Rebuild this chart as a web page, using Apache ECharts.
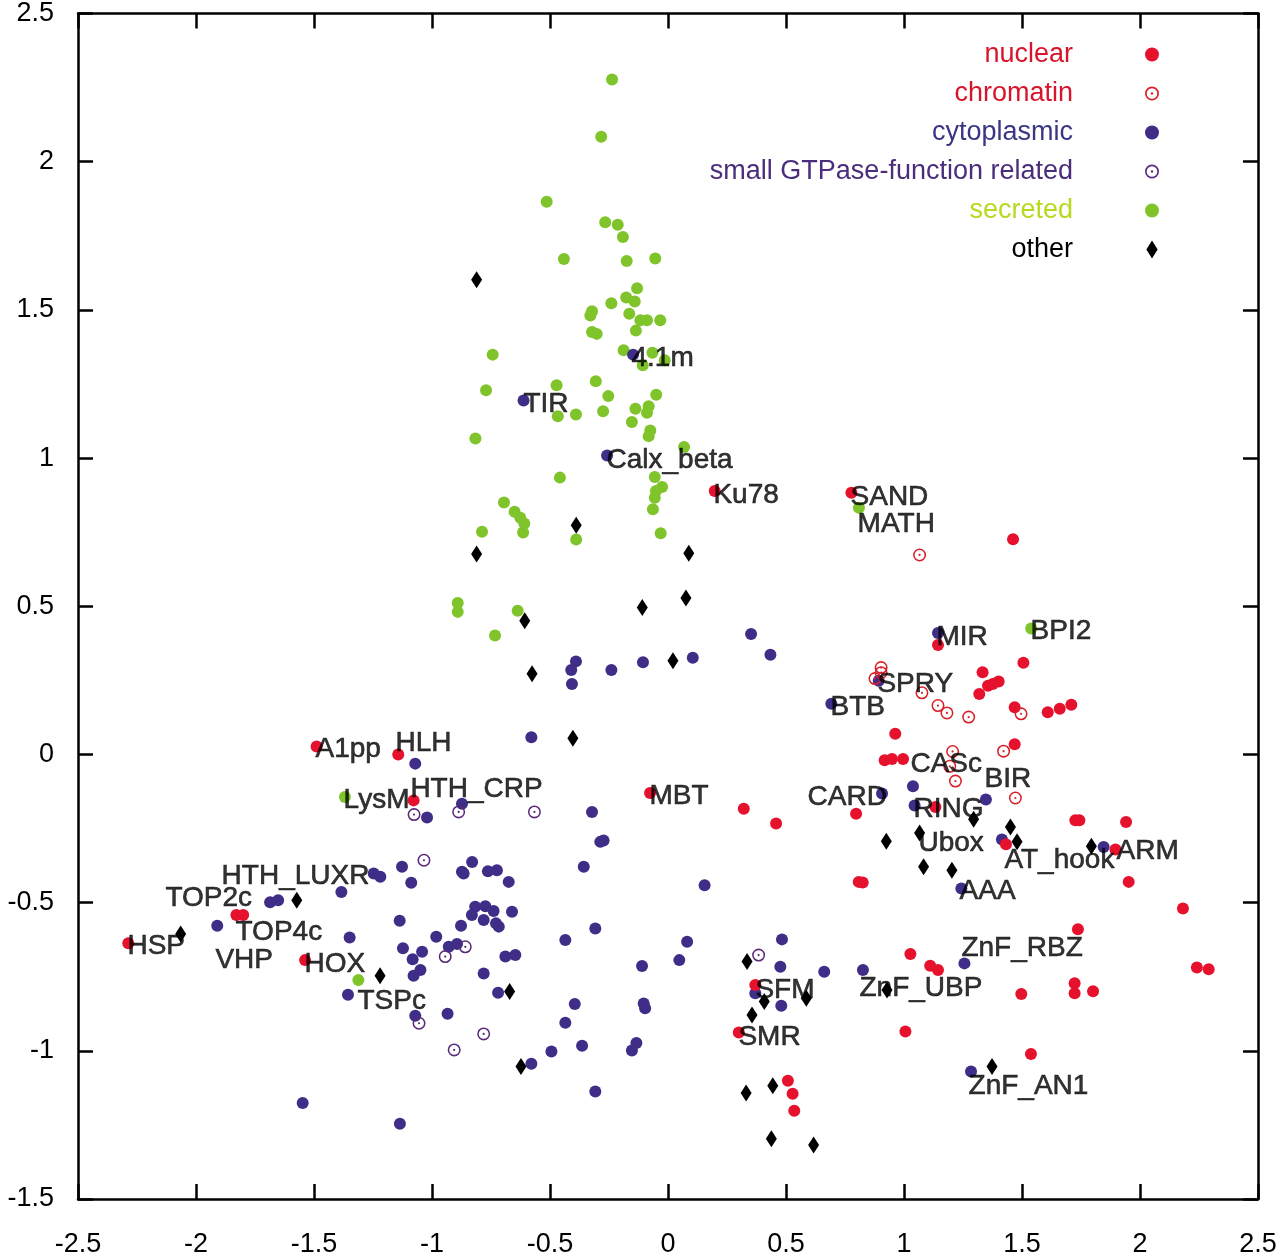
<!DOCTYPE html>
<html>
<head>
<meta charset="utf-8">
<script src="https://cdn.jsdelivr.net/npm/echarts@6/dist/echarts.min.js"></script>
<style>
  html, body { margin: 0; padding: 0; background: #fff; }
  #chart { width: 1280px; height: 1259px; }
</style>
</head>
<body>
<div id="chart"></div>
<script>
// axis ticks
var xTicks = [-2.5, -2, -1.5, -1, -0.5, 0, 0.5, 1, 1.5, 2, 2.5];
var yTicks = [-1.5, -1, -0.5, 0, 0.5, 1, 1.5, 2, 2.5];

// points, [x, y]
var nuclear = [[-1.489,0.027],[-1.143,0.0],[-1.078,-0.155],[-1.829,-0.542],[-1.800,-0.542],[-2.287,-0.637],[-1.538,-0.694],[-0.076,-0.130],[0.198,0.889],[0.777,0.883],[1.462,0.726],[1.144,0.369],[1.506,0.309],[1.333,0.277],[1.356,0.232],[1.376,0.238],[1.401,0.246],[1.319,0.204],[1.469,0.159],[1.609,0.142],[1.660,0.154],[1.709,0.168],[0.963,0.070],[0.918,-0.020],[0.949,-0.015],[0.996,-0.015],[1.469,0.034],[0.797,-0.200],[1.133,-0.177],[1.726,-0.222],[1.743,-0.222],[1.941,-0.228],[1.432,-0.303],[1.896,-0.321],[1.952,-0.430],[2.182,-0.520],[1.737,-0.590],[1.027,-0.673],[1.111,-0.713],[1.144,-0.727],[2.241,-0.719],[2.291,-0.725],[1.723,-0.772],[1.723,-0.806],[1.801,-0.799],[1.497,-0.808],[1.006,-0.935],[1.538,-1.011],[0.321,-0.183],[0.458,-0.233],[0.808,-0.430],[0.825,-0.432],[0.370,-0.778],[0.300,-0.938],[0.508,-1.101],[0.528,-1.145],[0.535,-1.202]];
var chromatin = [[1.066,0.673],[0.903,0.293],[0.903,0.276],[0.877,0.256],[1.076,0.208],[1.144,0.165],[1.182,0.140],[1.274,0.126],[1.496,0.137],[1.422,0.011],[1.206,0.010],[1.218,-0.090],[1.194,-0.040],[1.472,-0.147]];
var cytoplasmic = [[-0.148,1.349],[-0.612,1.194],[-0.258,1.009],[0.352,0.406],[0.434,0.336],[-0.390,0.314],[-0.410,0.285],[-0.407,0.238],[-0.240,0.285],[-0.106,0.311],[0.105,0.326],[-0.579,0.058],[0.692,0.171],[1.144,0.410],[0.893,0.249],[0.907,-0.132],[1.038,-0.107],[1.045,-0.172],[1.347,-0.152],[1.415,-0.287],[1.846,-0.312],[1.243,-0.452],[1.256,-0.705],[0.826,-0.727],[1.284,-1.070],[-0.322,-0.194],[-0.287,-0.295],[-0.273,-0.290],[-0.357,-0.379],[0.155,-0.441],[-0.308,-0.587],[-0.435,-0.626],[0.081,-0.632],[0.483,-0.624],[-0.110,-0.714],[0.048,-0.694],[0.476,-0.716],[0.662,-0.733],[0.370,-0.806],[0.480,-0.848],[-0.395,-0.842],[-0.103,-0.840],[-0.097,-0.856],[-0.435,-0.905],[-0.364,-0.983],[-0.494,-1.002],[-0.134,-0.974],[-0.153,-0.999],[-0.579,-1.044],[-0.308,-1.137],[-0.830,-0.363],[-0.763,-0.394],[-0.725,-0.391],[-0.675,-0.430],[-0.817,-0.514],[-0.774,-0.512],[-0.739,-0.528],[-0.661,-0.531],[-0.781,-0.559],[-0.729,-0.570],[-0.717,-0.581],[-0.689,-0.682],[-0.647,-0.677],[-0.781,-0.739],[-0.720,-0.804],[-1.071,-0.031],[-0.873,-0.166],[-1.021,-0.213],[-1.127,-0.379],[-1.247,-0.402],[-1.219,-0.413],[-1.088,-0.433],[-1.384,-0.464],[-0.873,-0.396],[-0.866,-0.402],[-0.831,-0.542],[-1.137,-0.561],[-0.877,-0.578],[-0.982,-0.615],[-1.349,-0.618],[-1.123,-0.654],[-1.042,-0.666],[-1.082,-0.691],[-0.929,-0.649],[-0.894,-0.640],[-1.049,-0.727],[-1.078,-0.747],[-1.356,-0.811],[-1.071,-0.882],[-0.934,-0.875],[-1.652,-0.492],[-1.686,-0.499],[-1.910,-0.578],[-1.548,-1.176],[-1.136,-1.246]];
var gtpase = [[-1.076,-0.203],[-0.887,-0.194],[-0.566,-0.194],[-1.034,-0.357],[-0.859,-0.649],[-0.944,-0.682],[-1.055,-0.907],[-0.781,-0.943],[-0.906,-0.997],[0.384,-0.677]];
var secreted = [[-0.237,2.277],[-0.283,2.084],[-0.514,1.865],[-0.266,1.796],[-0.213,1.787],[-0.191,1.746],[-0.441,1.672],[-0.175,1.665],[-0.054,1.673],[-0.131,1.573],[-0.177,1.542],[-0.141,1.528],[-0.240,1.522],[-0.322,1.495],[-0.329,1.481],[-0.164,1.487],[-0.117,1.465],[-0.089,1.465],[-0.033,1.465],[-0.136,1.430],[-0.322,1.425],[-0.302,1.419],[-0.188,1.364],[-0.066,1.355],[-0.014,1.330],[-0.107,1.313],[-0.743,1.349],[-0.771,1.229],[-0.472,1.246],[-0.306,1.259],[-0.253,1.209],[-0.050,1.214],[-0.467,1.141],[-0.390,1.147],[-0.275,1.158],[-0.138,1.166],[-0.082,1.175],[-0.089,1.153],[-0.153,1.122],[-0.075,1.093],[-0.082,1.074],[-0.816,1.066],[0.068,1.037],[-0.458,0.934],[-0.056,0.936],[-0.025,0.902],[-0.051,0.889],[-0.056,0.866],[-0.064,0.827],[-0.695,0.850],[-0.650,0.819],[-0.626,0.799],[-0.609,0.779],[-0.614,0.749],[-0.788,0.751],[-0.389,0.725],[-0.031,0.746],[-0.637,0.485],[-0.733,0.401],[-0.891,0.511],[-0.891,0.481],[-1.369,-0.144],[-1.312,-0.761],[0.809,0.832],[1.539,0.425]];
var other = [[-0.811,1.602],[-0.811,0.676],[-0.389,0.773],[0.088,0.679],[0.076,0.528],[-0.109,0.496],[-0.607,0.451],[-0.576,0.272],[0.021,0.316],[-0.403,0.055],[-1.573,-0.492],[-2.065,-0.606],[-1.220,-0.747],[-0.671,-0.800],[-0.623,-1.053],[0.335,-0.699],[0.408,-0.834],[0.586,-0.823],[0.356,-0.879],[0.331,-1.142],[0.444,-1.118],[0.438,-1.297],[0.617,-1.318],[0.925,-0.293],[1.066,-0.265],[1.083,-0.379],[1.203,-0.391],[1.295,-0.219],[1.451,-0.245],[1.479,-0.295],[1.794,-0.310],[0.928,-0.795],[1.373,-1.053]];

// domain names, with where each text starts (left edge, middle)
var domainNames = ['4.1m','TIR','Calx_beta','Ku78','SAND','MATH','MIR','BPI2','SPRY','BTB','A1pp','HLH','CASc','BIR','LysM','HTH_CRP','MBT','CARD','RING','Ubox','AT_hook','ARM','HTH_LUXR','TOP2c','AAA','TOP4c','HSP','VHP','HOX','ZnF_RBZ','SFM','ZnF_UBP','TSPc','SMR','ZnF_AN1'];
var domainX = [-0.144,-0.602,-0.250,0.203,0.784,0.814,1.148,1.547,0.898,0.699,-1.483,-1.144,1.038,1.352,-1.364,-1.081,-0.068,0.602,1.051,1.072,1.436,1.911,-1.881,-2.119,1.246,-1.822,-2.280,-1.907,-1.530,1.254,0.381,0.822,-1.305,0.309,1.284];
var domainY = [1.337,1.182,0.993,0.875,0.869,0.778,0.394,0.414,0.236,0.158,0.017,0.037,-0.034,-0.084,-0.155,-0.118,-0.141,-0.145,-0.185,-0.300,-0.357,-0.327,-0.411,-0.485,-0.461,-0.599,-0.646,-0.694,-0.707,-0.653,-0.795,-0.788,-0.832,-0.953,-1.118];

var FONT = 'Liberation Sans';
// ring with a dot in the middle
var RING = 'path://M0,-10 A10,10 0 1,1 0,10 A10,10 0 1,1 0,-10 Z M0,-7.6 A7.6,7.6 0 1,0 0,7.6 A7.6,7.6 0 1,0 0,-7.6 Z M0,-1.7 A1.7,1.7 0 1,1 0,1.7 A1.7,1.7 0 1,1 0,-1.7 Z';
var DIAMOND = 'path://M5,0 L10,8 L5,16 L0,8 Z';

var labelData = domainNames.map(function (n, i) {
  return { name: n, value: [domainX[i], domainY[i]] };
});

function frameAxis(pos, isX, showLabel) {
  var ticks = isX ? xTicks : yTicks;
  return {
    type: 'value',
    position: pos,
    min: ticks[0],
    max: ticks[ticks.length - 1],
    interval: 0.5,
    splitLine: { show: false },
    axisLine: { show: true, onZero: false, lineStyle: { color: '#000', width: 2.5 } },
    axisTick: { show: true, inside: true, length: 15, lineStyle: { color: '#000', width: 2.5 } },
    axisLabel: {
      show: showLabel,
      color: '#000',
      fontFamily: FONT,
      fontSize: 27,
      margin: isX ? 32 : 24,
      showMinLabel: true,
      showMaxLabel: true
    }
  };
}

var chart = echarts.init(document.getElementById('chart'));
chart.setOption({
  animation: false,
  backgroundColor: '#fff',
  grid: { left: 78, right: 22, top: 12, bottom: 60 },
  xAxis: [frameAxis('bottom', true, true), frameAxis('top', true, false)],
  yAxis: [frameAxis('left', false, true), frameAxis('right', false, false)],
  legend: {
    orient: 'vertical',
    align: 'right',
    right: 116,
    top: 36,
    itemWidth: 14,
    itemHeight: 18,
    itemGap: 12,
    selectedMode: false,
    textStyle: { fontFamily: FONT, fontSize: 27, lineHeight: 27, padding: [0, 67, 0, 0] },
    data: [
      { name: 'nuclear', textStyle: { color: '#d8142b' } },
      { name: 'chromatin', textStyle: { color: '#d8142b' } },
      { name: 'cytoplasmic', textStyle: { color: '#3a3585' } },
      { name: 'small GTPase-function related', textStyle: { color: '#4b2d7c' } },
      { name: 'secreted', textStyle: { color: '#b6da1f' } },
      { name: 'other', icon: DIAMOND, textStyle: { color: '#000' } }
    ]
  },
  series: [
    { name: 'secreted', type: 'scatter', data: secreted, symbol: 'circle', symbolSize: 12,
      itemStyle: { color: '#7fc42b', opacity: 1 } },
    { name: 'cytoplasmic', type: 'scatter', data: cytoplasmic, symbol: 'circle', symbolSize: 12,
      itemStyle: { color: '#3f2d87', opacity: 1 } },
    { name: 'small GTPase-function related', type: 'scatter', data: gtpase, symbol: RING, symbolSize: 13,
      itemStyle: { color: '#5a2a7a', opacity: 1 } },
    { name: 'nuclear', type: 'scatter', data: nuclear, symbol: 'circle', symbolSize: 12,
      itemStyle: { color: '#e5112d', opacity: 1 } },
    { name: 'chromatin', type: 'scatter', data: chromatin, symbol: RING, symbolSize: 13,
      itemStyle: { color: '#d9212a', opacity: 1 } },
    { name: 'other', type: 'scatter', data: other, symbol: DIAMOND, symbolSize: [11, 17],
      itemStyle: { color: '#000', opacity: 1 } },
    {
      name: 'labels', type: 'scatter', data: labelData, symbolSize: 1, silent: true, z: 10,
      itemStyle: { color: 'rgba(0,0,0,0)' },
      label: {
        show: true, position: 'right', distance: 0, offset: [-3, 0], formatter: '{b}',
        color: '#000', fontFamily: FONT, fontSize: 28,
        textBorderColor: '#000', textBorderWidth: 0.6
      }
    }
  ]
});
</script>
</body>
</html>
